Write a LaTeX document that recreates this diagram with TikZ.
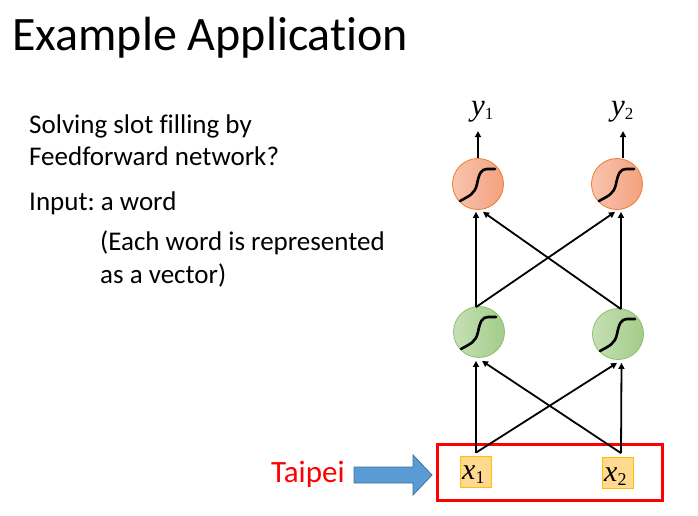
\documentclass[tikz,border=0pt]{standalone}
\usepackage{fontspec}
\setmainfont{Carlito}[Ligatures={NoCommon}]
\newfontfamily\tnr{Liberation Serif}
\usetikzlibrary{arrows.meta,calc}
\frenchspacing
\definecolor{orfill1}{HTML}{F8C4AE}
\definecolor{orfill2}{HTML}{F4A17F}
\definecolor{ordraw}{HTML}{ED7D31}
\definecolor{grfill1}{HTML}{C5E0B5}
\definecolor{grfill2}{HTML}{A3CC89}
\definecolor{grdraw}{HTML}{8CBF6E}
\definecolor{boxfill}{HTML}{FFD98F}
\definecolor{boxdraw}{HTML}{FFC000}
\definecolor{arrfill}{HTML}{5B9BD5}
\definecolor{arrdraw}{HTML}{41719C}
\tikzset{
  neuronor/.style={circle, minimum size=51pt, inner sep=0pt, left color=orfill1, right color=orfill2, draw=ordraw, line width=0.8pt},
  neurongr/.style={circle, minimum size=51pt, inner sep=0pt, left color=grfill1, right color=grfill2, draw=grdraw, line width=0.8pt},
  inbox/.style={rectangle, minimum width=31pt, minimum height=31pt, inner sep=0pt, fill=boxfill, draw=boxdraw, line width=0.8pt},
  conn/.style={line width=1.8pt, -{Triangle[length=6pt,width=6pt]}},
  sigm/.style={line width=2.6pt, line cap=round},
  bodytext/.style={anchor=base west, inner sep=0pt, font=\fontsize{27}{30}\selectfont},
  ylab/.style={anchor=base west, inner sep=0pt, font=\tnr\fontsize{31}{32}\selectfont},
  xlab/.style={anchor=base west, inner sep=0pt, font=\tnr\fontsize{30}{30}\selectfont},
}
\newcommand{\sigmoidat}[1]{%
  \draw[sigm] ($(#1)+(-18,17)$) .. controls ($(#1)+(-9,12)$) and ($(#1)+(-3,10)$) .. ($(#1)+(-1,0)$)
     .. controls ($(#1)+(1,-10)$) and ($(#1)+(3,-15)$) .. ($(#1)+(9,-15)$) -- ($(#1)+(17,-15)$);}
\begin{document}
\begin{tikzpicture}[x=1pt,y=-1pt]
\useasboundingbox (0,0) rectangle (698,515);
% title
\node[anchor=base west, inner sep=0pt, font=\fontsize{48}{52}\selectfont] (title) at (12,50) {Example Application};
% body text
\node[bodytext] (t1) at (29,133) {Solving slot filling by};
\node[bodytext] (t2) at (29,165) {Feedforward network?};
\node[bodytext] (t3) at (29,210) {Input: a word};
\node[bodytext] (t4) at (100,250) {(Each word is represented};
\node[bodytext] (t5) at (100,283) {as a vector)};
% neurons
\node[neuronor] (o1) at (478,184) {};
\node[neuronor] (o2) at (617,184) {};
\node[neurongr] (h1) at (479,332) {};
\node[neurongr] (h2) at (618,334) {};
\sigmoidat{o1}\sigmoidat{o2}\sigmoidat{h1}\sigmoidat{h2}
% outputs
\node[ylab] (y1) at (471,115) {\textit{y}\raisebox{-4pt}{\fontsize{17}{17}\selectfont 1}};
\node[ylab] (y2) at (611,115) {\textit{y}\raisebox{-4pt}{\fontsize{17}{17}\selectfont 2}};
% input box
\node[draw=red, line width=3pt, minimum width=225pt, minimum height=56pt, inner sep=0pt] (inp) at (549.5,472) {};
\node[inbox] (x1) at (475.5,471.5) {};
\node[inbox] (x2) at (617.5,473) {};
\node[xlab] (x1t) at (462,479) {\textit{x}\raisebox{-4pt}{\fontsize{18}{18}\selectfont 1}};
\node[xlab] (x2t) at (604,481) {\textit{x}\raisebox{-4pt}{\fontsize{18}{18}\selectfont 2}};
% Taipei
\node[anchor=base west, inner sep=0pt, text=red, font=\fontsize{31}{32}\selectfont] (taipei) at (271,482) {Taipei};
\fill[arrfill, draw=arrdraw, line width=0.8pt] (354,467) -- (413,467) -- (413,455) -- (432,475) -- (413,495) -- (413,483) -- (354,483) -- cycle;
% connectors input -> hidden
\coordinate (s1) at ([xshift=0.5pt,yshift=3pt]x1.north);
\coordinate (s2) at ([xshift=3.5pt,yshift=4pt]x2.north);
\draw[conn] (s1) -- ([xshift=-3pt,yshift=-3pt]h1.south);
\draw[conn] (s1) -- ([xshift=-1pt,yshift=-3pt]h2.south);
\draw[conn] (s2) -- ([xshift=3pt,yshift=-3pt]h1.south);
\draw[conn] (s2) -- ([xshift=3.5pt,yshift=-3pt]h2.south);
% hidden -> output
\coordinate (u1) at ([xshift=-3pt,yshift=-1pt]h1.north);
\coordinate (u2) at ([xshift=3pt,yshift=-1pt]h2.north);
\draw[conn] (u1) -- ([xshift=-2pt,yshift=-2pt]o1.south);
\draw[conn] (u1) -- ([xshift=-2pt,yshift=-2pt]o2.south);
\draw[conn] (u2) -- ([xshift=5pt,yshift=-2pt]o1.south);
\draw[conn] (u2) -- ([xshift=4pt,yshift=-2pt]o2.south);
% hidden -> y
\draw[conn] (o1.north) -- ([yshift=27pt]o1.north);
\draw[conn] ([xshift=6pt]o2.north) -- ([xshift=6pt,yshift=27pt]o2.north);
\end{tikzpicture}
\end{document}
